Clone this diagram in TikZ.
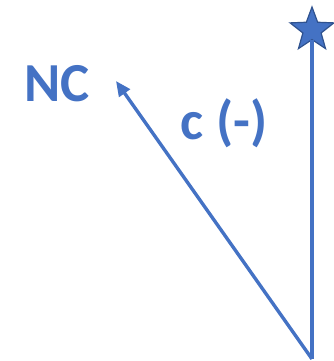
\documentclass[tikz,border=0pt]{standalone}
\usepackage{fontspec}
\setmainfont{Carlito}
\usetikzlibrary{arrows.meta,shapes.geometric}
\definecolor{blu}{HTML}{4472C4}
\definecolor{bluedge}{HTML}{2F528F}

\begin{document}
\begin{tikzpicture}[x=1pt,y=1pt,
  lbl/.style={text=blu,font=\fontsize{55}{60}\selectfont\bfseries,inner sep=0pt,anchor=base},
  st/.style={star,star points=5,star point ratio=2.4,minimum size=46pt,inner sep=0pt,
    fill=blu,draw=bluedge,line width=1.2pt},
  ln/.style={draw=blu,line width=3.4pt},
  a/.style={ln,-{Triangle[length=15pt,width=13pt]}}]
\useasboundingbox (0,0) rectangle (333,361);
\coordinate (o) at (312,2);
\node[st] (top) at (312,331) {};
\coordinate (tip) at (116,280);
\node[lbl] (nc) at (57,259) {NC};
\node[lbl] (cm) at (224,221) {c (-)};
\draw[ln](o)--(top);
\draw[a](o)--(tip);
\end{tikzpicture}
\end{document}
